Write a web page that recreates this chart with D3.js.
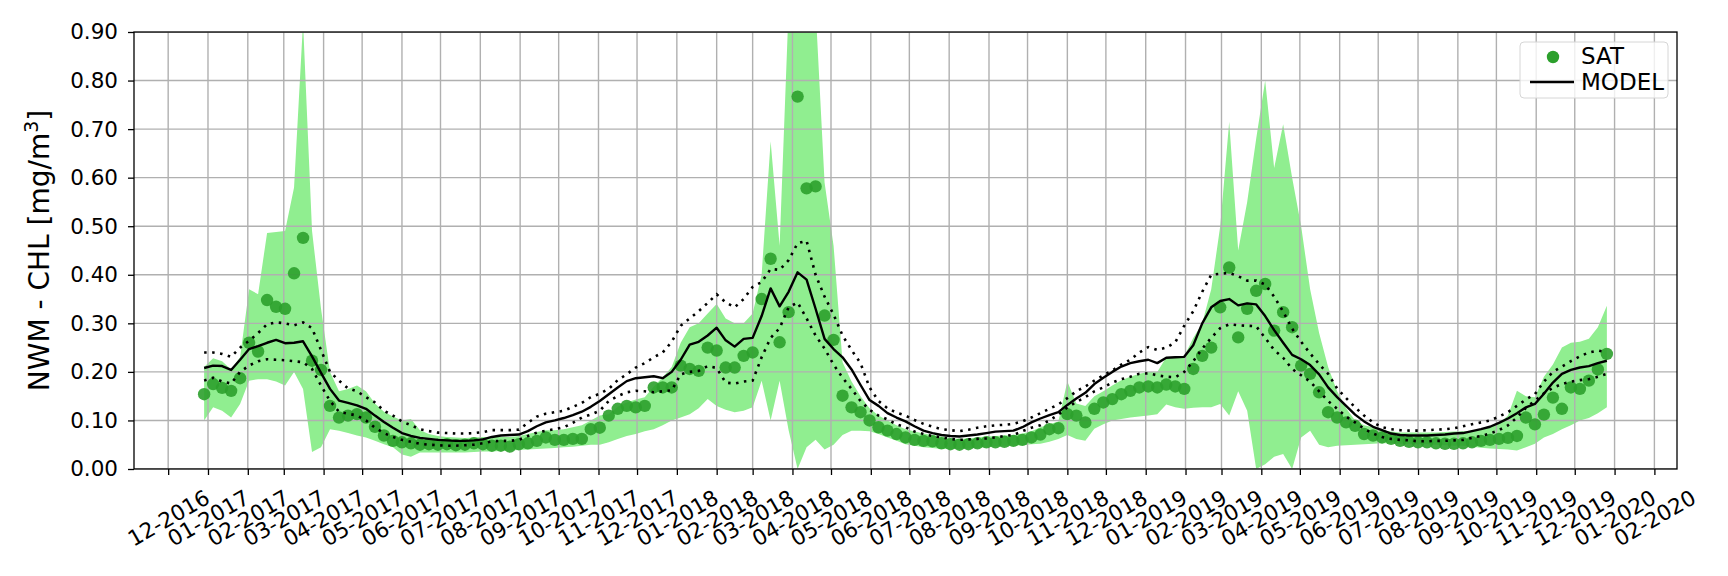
<!DOCTYPE html>
<html>
<head>
<meta charset="utf-8">
<script src="https://cdn.jsdelivr.net/npm/d3@7"></script>
<style>
  body { margin: 0; background: #fff; }
  svg { display: block; font-family: "DejaVu Sans", sans-serif; }
</style>
</head>
<body>
<svg id="chart" width="1728" height="576"></svg>
<script>
/*
  NWM - CHL weekly time series: SAT dots + SAT range band, MODEL line + dotted envelope
*/

// weekly samples, first week and count
var firstWeek = "2016-12-29",
    tickFirst = "2016-12-01",
    tickLast = "2020-02-01",
    yTicks = [0, 0.1, 0.2, 0.3, 0.4, 0.5, 0.6, 0.7, 0.8, 0.9];

// SAT weekly mean
var sat = [
  0.154, 0.175, 0.167, 0.161, 0.187, 0.260, 0.242, 0.348, 0.334, 0.330, 0.403, 0.476, 0.223, 0.204, 0.130, 0.106,
  0.110, 0.113, 0.106, 0.087, 0.069, 0.058, 0.055, 0.053, 0.050, 0.051, 0.050, 0.051, 0.049, 0.050, 0.053, 0.051,
  0.048, 0.048, 0.046, 0.051, 0.053, 0.058, 0.065, 0.060, 0.060, 0.062, 0.062, 0.082,
  0.085, 0.110, 0.124, 0.130, 0.127, 0.130, 0.168, 0.168, 0.168, 0.213, 0.206, 0.202, 0.250, 0.244, 0.209, 0.209,
  0.233, 0.240, 0.350, 0.433, 0.261, 0.323, 0.767, 0.578, 0.582, 0.316, 0.266, 0.151, 0.127, 0.117,
  0.100, 0.086, 0.079, 0.072, 0.065, 0.060, 0.058, 0.057, 0.053, 0.051, 0.050, 0.051, 0.053, 0.055, 0.055, 0.056,
  0.058, 0.060, 0.065, 0.071, 0.082, 0.084, 0.113, 0.110, 0.096, 0.124, 0.137, 0.144, 0.154, 0.161, 0.168, 0.170, 0.168,
  0.174, 0.170, 0.165, 0.206, 0.233, 0.250, 0.333, 0.415, 0.271, 0.330, 0.367, 0.381, 0.285, 0.323, 0.292, 0.213,
  0.196, 0.158, 0.117, 0.106, 0.096, 0.089, 0.072, 0.069, 0.065, 0.062, 0.058, 0.056, 0.055, 0.055, 0.053, 0.052,
  0.052, 0.053, 0.055, 0.058, 0.060, 0.062, 0.064, 0.068, 0.106, 0.092, 0.112, 0.147, 0.124, 0.168, 0.165, 0.182,
  0.205, 0.237
];

// SAT spread (light green band)
var satLow = [
  0.100, 0.127, 0.120, 0.106, 0.134, 0.182, 0.185, 0.185, 0.180, 0.172, 0.200, 0.165, 0.035, 0.045, 0.082, 0.079,
  0.074, 0.069, 0.065, 0.058, 0.051, 0.045, 0.030, 0.025, 0.034, 0.034, 0.034, 0.034, 0.034, 0.034, 0.035, 0.036,
  0.036, 0.037, 0.038, 0.039, 0.040, 0.041, 0.042, 0.043, 0.045, 0.046, 0.048, 0.050,
  0.050, 0.055, 0.062, 0.068, 0.072, 0.078, 0.082, 0.090, 0.100, 0.106, 0.113, 0.125, 0.144, 0.130, 0.122, 0.117,
  0.120, 0.127, 0.182, 0.100, 0.182, 0.080, 0.000, 0.045, 0.060, 0.040, 0.050, 0.070, 0.079, 0.079,
  0.078, 0.072, 0.065, 0.058, 0.051, 0.048, 0.045, 0.043, 0.041, 0.041, 0.041, 0.042, 0.044, 0.045, 0.047, 0.048,
  0.048, 0.049, 0.051, 0.052, 0.056, 0.062, 0.070, 0.062, 0.058, 0.083, 0.092, 0.100, 0.103, 0.106, 0.108, 0.110, 0.113,
  0.133, 0.127, 0.124, 0.126, 0.127, 0.127, 0.134, 0.110, 0.160, 0.120, 0.000, 0.010, 0.025, 0.031, 0.000, 0.065,
  0.079, 0.050, 0.045, 0.048, 0.049, 0.050, 0.051, 0.052, 0.053, 0.053, 0.052, 0.052, 0.051, 0.051, 0.050, 0.049,
  0.048, 0.048, 0.046, 0.044, 0.042, 0.041, 0.040, 0.038, 0.045, 0.052, 0.065, 0.072, 0.082, 0.090, 0.100, 0.105,
  0.115, 0.127
];
var satHigh = [
  0.210, 0.228, 0.222, 0.205, 0.230, 0.370, 0.360, 0.486, 0.488, 0.490, 0.580, 0.920, 0.490, 0.330, 0.200, 0.160,
  0.165, 0.172, 0.160, 0.135, 0.118, 0.108, 0.100, 0.103, 0.080, 0.072, 0.068, 0.066, 0.065, 0.064, 0.065, 0.066,
  0.066, 0.066, 0.066, 0.068, 0.072, 0.076, 0.080, 0.080, 0.082, 0.086, 0.090, 0.100,
  0.110, 0.113, 0.128, 0.137, 0.143, 0.148, 0.170, 0.189, 0.210, 0.260, 0.292, 0.300, 0.320, 0.340, 0.310, 0.300,
  0.300, 0.320, 0.400, 0.675, 0.460, 0.950, 0.990, 0.990, 0.950, 0.590, 0.460, 0.220, 0.180, 0.150,
  0.125, 0.110, 0.100, 0.090, 0.082, 0.077, 0.073, 0.070, 0.067, 0.064, 0.062, 0.063, 0.065, 0.067, 0.068, 0.069,
  0.070, 0.073, 0.078, 0.086, 0.092, 0.098, 0.180, 0.135, 0.130, 0.150, 0.160, 0.172, 0.183, 0.190, 0.196, 0.200, 0.200,
  0.230, 0.230, 0.232, 0.270, 0.300, 0.370, 0.500, 0.715, 0.450, 0.550, 0.680, 0.800, 0.620, 0.710, 0.600, 0.500,
  0.370, 0.280, 0.210, 0.160, 0.125, 0.100, 0.090, 0.086, 0.080, 0.077, 0.075, 0.075, 0.075, 0.075, 0.075, 0.076,
  0.077, 0.078, 0.079, 0.082, 0.086, 0.093, 0.110, 0.161, 0.150, 0.148, 0.190, 0.215, 0.250, 0.260, 0.262, 0.268,
  0.292, 0.336
];

// MODEL weekly mean and dotted envelope
var model = [
  0.208, 0.213, 0.212, 0.204, 0.225, 0.247, 0.253, 0.260, 0.266, 0.259, 0.260, 0.263, 0.232, 0.198, 0.165, 0.141,
  0.136, 0.131, 0.124, 0.110, 0.097, 0.085, 0.074, 0.068, 0.064, 0.062, 0.060, 0.059, 0.058, 0.058, 0.059, 0.061,
  0.066, 0.069, 0.070, 0.071, 0.078, 0.088, 0.096, 0.100, 0.105, 0.111, 0.118, 0.128,
  0.140, 0.154, 0.168, 0.181, 0.187, 0.189, 0.191, 0.187, 0.200, 0.225, 0.256, 0.262, 0.275, 0.291, 0.265, 0.252,
  0.268, 0.270, 0.315, 0.372, 0.335, 0.365, 0.405, 0.390, 0.330, 0.268, 0.247, 0.230, 0.205, 0.173,
  0.142, 0.130, 0.115, 0.106, 0.098, 0.088, 0.079, 0.074, 0.070, 0.068, 0.067, 0.069, 0.071, 0.074, 0.077, 0.078,
  0.079, 0.086, 0.096, 0.104, 0.111, 0.117, 0.132, 0.145, 0.157, 0.175, 0.188, 0.200, 0.211, 0.218, 0.222, 0.225, 0.218,
  0.229, 0.230, 0.231, 0.255, 0.300, 0.333, 0.346, 0.350, 0.337, 0.341, 0.339, 0.315, 0.286, 0.260, 0.235, 0.226,
  0.214, 0.195, 0.168, 0.148, 0.130, 0.112, 0.098, 0.087, 0.080, 0.073, 0.070, 0.069, 0.069, 0.069, 0.070, 0.071,
  0.073, 0.074, 0.078, 0.082, 0.087, 0.095, 0.104, 0.115, 0.127, 0.134, 0.155, 0.178, 0.196, 0.204, 0.209, 0.212,
  0.218, 0.223
];
var modelHigh = [
  0.240, 0.240, 0.237, 0.231, 0.250, 0.264, 0.280, 0.298, 0.302, 0.300, 0.296, 0.302, 0.290, 0.245, 0.200, 0.182,
  0.166, 0.160, 0.148, 0.137, 0.120, 0.110, 0.098, 0.090, 0.082, 0.078, 0.075, 0.074, 0.073, 0.073, 0.074, 0.076,
  0.080, 0.080, 0.080, 0.081, 0.095, 0.108, 0.114, 0.117, 0.120, 0.128, 0.136, 0.148,
  0.155, 0.165, 0.183, 0.195, 0.209, 0.218, 0.230, 0.240, 0.262, 0.295, 0.310, 0.325, 0.342, 0.360, 0.343, 0.333,
  0.350, 0.375, 0.385, 0.412, 0.410, 0.430, 0.465, 0.470, 0.400, 0.355, 0.318, 0.275, 0.245, 0.218,
  0.168, 0.140, 0.125, 0.116, 0.110, 0.101, 0.093, 0.087, 0.082, 0.080, 0.078, 0.081, 0.085, 0.088, 0.090, 0.091,
  0.093, 0.098, 0.106, 0.115, 0.124, 0.133, 0.146, 0.160, 0.170, 0.182, 0.193, 0.203, 0.215, 0.225, 0.240, 0.251, 0.245,
  0.250, 0.261, 0.295, 0.325, 0.365, 0.400, 0.402, 0.404, 0.397, 0.388, 0.388, 0.380, 0.355, 0.324, 0.289, 0.262,
  0.238, 0.216, 0.196, 0.166, 0.146, 0.127, 0.110, 0.096, 0.086, 0.082, 0.080, 0.079, 0.079, 0.080, 0.081, 0.082,
  0.084, 0.088, 0.092, 0.096, 0.100, 0.108, 0.117, 0.130, 0.143, 0.154, 0.180, 0.200, 0.211, 0.222, 0.232, 0.240,
  0.244, 0.240
];
var modelLow = [
  0.182, 0.188, 0.180, 0.176, 0.200, 0.213, 0.222, 0.226, 0.225, 0.224, 0.222, 0.220, 0.206, 0.172, 0.140, 0.118,
  0.114, 0.110, 0.100, 0.085, 0.074, 0.066, 0.060, 0.056, 0.052, 0.050, 0.049, 0.048, 0.048, 0.049, 0.050, 0.053,
  0.057, 0.058, 0.058, 0.060, 0.068, 0.075, 0.079, 0.082, 0.086, 0.095, 0.106, 0.112,
  0.120, 0.140, 0.150, 0.158, 0.161, 0.160, 0.158, 0.160, 0.162, 0.195, 0.200, 0.202, 0.212, 0.208, 0.178, 0.176,
  0.180, 0.182, 0.230, 0.270, 0.290, 0.333, 0.343, 0.310, 0.275, 0.248, 0.215, 0.188, 0.165, 0.140,
  0.122, 0.110, 0.102, 0.092, 0.086, 0.077, 0.072, 0.068, 0.065, 0.062, 0.060, 0.061, 0.062, 0.063, 0.065, 0.068,
  0.070, 0.078, 0.085, 0.090, 0.100, 0.112, 0.127, 0.138, 0.148, 0.160, 0.168, 0.178, 0.185, 0.190, 0.196, 0.197, 0.193,
  0.190, 0.189, 0.200, 0.222, 0.248, 0.270, 0.290, 0.298, 0.296, 0.295, 0.294, 0.270, 0.245, 0.229, 0.206, 0.193,
  0.180, 0.160, 0.140, 0.124, 0.108, 0.096, 0.083, 0.073, 0.066, 0.062, 0.060, 0.059, 0.057, 0.057, 0.058, 0.058,
  0.059, 0.060, 0.064, 0.068, 0.073, 0.080, 0.090, 0.106, 0.126, 0.141, 0.156, 0.167, 0.175, 0.180, 0.183, 0.185,
  0.190, 0.196
];

var margin = {top: 32, right: 51, bottom: 107, left: 134},
    W = 1728, H = 576,
    width = W - margin.left - margin.right,
    height = H - margin.top - margin.bottom;

var parse = d3.utcParse("%Y-%m-%d"),
    start = parse(firstWeek),
    dates = sat.map(function(d, i){ return d3.utcDay.offset(start, 7 * i); }),
    data = dates.map(function(d, i){
      return {date: d, sat: sat[i], lo: satLow[i], hi: satHigh[i], model: model[i], mhi: modelHigh[i], mlo: modelLow[i]};
    });

// matplotlib-like 5% margins on the time axis
var span = dates[dates.length - 1] - dates[0];
var x = d3.scaleUtc()
  .domain([new Date(+dates[0] - 0.05 * span), new Date(+dates[dates.length - 1] + 0.05 * span)])
  .range([0, width]);
var y = d3.scaleLinear().domain([0, 0.9]).range([height, 0]);

var monthTicks = d3.utcMonth.range(parse(tickFirst), d3.utcMonth.offset(parse(tickLast), 1));

var svg = d3.select("#chart")
  .append("g")
    .attr("transform", "translate(" + margin.left + "," + margin.top + ")");

svg.append("clipPath").attr("id", "clip")
  .append("rect").attr("width", width).attr("height", height);

var plot = svg.append("g").attr("clip-path", "url(#clip)");

// SAT band
plot.append("path")
  .datum(data)
  .attr("fill", "#90ee90")
  .attr("d", d3.area()
    .x(function(d){ return x(d.date); })
    .y0(function(d){ return y(d.lo); })
    .y1(function(d){ return y(d.hi); }));

// grid
plot.append("g").selectAll("line")
  .data(monthTicks)
  .enter().append("line")
    .attr("x1", function(d){ return x(d); }).attr("x2", function(d){ return x(d); })
    .attr("y1", 0).attr("y2", height)
    .attr("stroke", "#b0b0b0").attr("stroke-width", 1.4);
plot.append("g").selectAll("line")
  .data(yTicks)
  .enter().append("line")
    .attr("x1", 0).attr("x2", width)
    .attr("y1", function(d){ return y(d); }).attr("y2", function(d){ return y(d); })
    .attr("stroke", "#b0b0b0").attr("stroke-width", 1.4);

// SAT dots
plot.append("g").selectAll("circle")
  .data(data)
  .enter().append("circle")
    .attr("cx", function(d){ return x(d.date); })
    .attr("cy", function(d){ return y(d.sat); })
    .attr("r", 6.2)
    .attr("fill", "#2ca02c")
    .attr("fill-opacity", 0.9);

// MODEL lines
function lineOf(key){
  return d3.line().x(function(d){ return x(d.date); }).y(function(d){ return y(d[key]); });
}
["mhi", "mlo"].forEach(function(k){
  plot.append("path").datum(data)
    .attr("fill", "none").attr("stroke", "#000").attr("stroke-width", 2.6)
    .attr("stroke-dasharray", "2.5,5.5")
    .attr("d", lineOf(k));
});
plot.append("path").datum(data)
  .attr("fill", "none").attr("stroke", "#000").attr("stroke-width", 2.4)
  .attr("stroke-linejoin", "round")
  .attr("d", lineOf("model"));

// frame
svg.append("rect")
  .attr("width", width).attr("height", height)
  .attr("fill", "none").attr("stroke", "#000").attr("stroke-width", 1.3);

// axes
var xAxis = svg.append("g")
  .attr("transform", "translate(0," + height + ")")
  .call(d3.axisBottom(x).tickValues(monthTicks).tickFormat(d3.utcFormat("%m-%Y")).tickSize(6).tickPadding(4));
xAxis.select(".domain").remove();
xAxis.selectAll("line").attr("stroke-width", 1.3);
xAxis.selectAll("text")
  .attr("y", null).attr("dy", null)
  .attr("dominant-baseline", "central")
  .attr("text-anchor", "middle")
  .attr("transform", "translate(0,49) rotate(-30)")
  .style("font-family", "DejaVu Sans")
  .style("font-size", "21.5px")
  .attr("fill", "#000");

var yAxis = svg.append("g")
  .call(d3.axisLeft(y).tickValues(yTicks).tickFormat(d3.format(".2f")).tickSize(6).tickPadding(10));
yAxis.select(".domain").remove();
yAxis.selectAll("line").attr("stroke-width", 1.3);
yAxis.selectAll("text")
  .style("font-family", "DejaVu Sans")
  .style("font-size", "21.5px")
  .attr("fill", "#000");

// y label
var yl = svg.append("text")
  .attr("transform", "translate(" + (49 - margin.left) + "," + (height / 2) + ") rotate(-90)")
  .attr("text-anchor", "middle")
  .style("font-family", "DejaVu Sans")
  .style("font-size", "28px")
  .text("NWM - CHL [mg/m");
yl.append("tspan").attr("baseline-shift", "super").style("font-size", "19px").text("3");
yl.append("tspan").text("]");

// legend
var lg = svg.append("g").attr("transform", "translate(" + (1520 - margin.left) + "," + (42 - margin.top) + ")");
lg.append("rect")
  .attr("width", 148).attr("height", 56).attr("rx", 4)
  .attr("fill", "#fff").attr("fill-opacity", 0.8)
  .attr("stroke", "#d6d6d6").attr("stroke-width", 1);
lg.append("circle").attr("cx", 33).attr("cy", 15).attr("r", 6.2).attr("fill", "#2ca02c");
lg.append("line").attr("x1", 10).attr("x2", 54).attr("y1", 40).attr("y2", 40)
  .attr("stroke", "#000").attr("stroke-width", 2.6);
lg.append("text").attr("x", 61).attr("y", 22).style("font-size", "23px").text("SAT");
lg.append("text").attr("x", 61).attr("y", 48).style("font-size", "23px").text("MODEL");
</script>
</body>
</html>
